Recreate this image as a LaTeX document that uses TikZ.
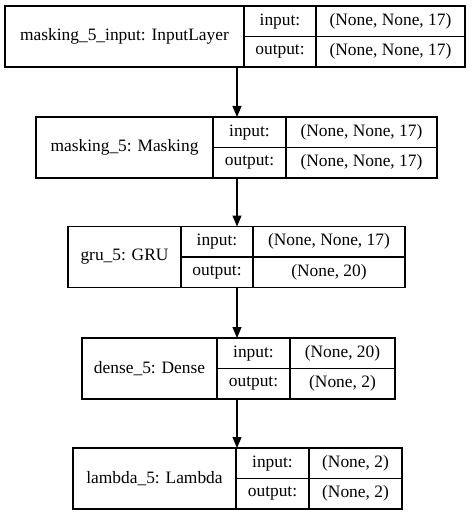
\documentclass[tikz,border=0pt]{standalone}
\usepackage{fontspec}
\setmainfont{Liberation Serif}
\usetikzlibrary{arrows.meta}
\tikzset{
  cell/.style={draw=black, line width=1.2pt, rectangle, inner sep=0pt, outer sep=0pt, font=\fontsize{17.4}{20}\selectfont, anchor=center},
  ghost/.style={rectangle, inner sep=0pt, outer sep=0pt, anchor=center},
  arr/.style={line width=1.2pt, -{Triangle[length=11pt,width=9pt]}}
}
% #1 name, #2..#5 x positions, #6 y centre, #7 label, #8 input value, #9 output value
\newcommand\kerasbox[9]{%
  \pgfmathsetmacro\kwa{#3-#2}\pgfmathsetmacro\kwb{#4-#3}\pgfmathsetmacro\kwc{#5-#4}\pgfmathsetmacro\kwt{#5-#2}%
  \pgfmathsetmacro\kca{(#2+#3)/2}\pgfmathsetmacro\kcb{(#3+#4)/2}\pgfmathsetmacro\kcc{(#4+#5)/2}\pgfmathsetmacro\kct{(#2+#5)/2}%
  \node[ghost, minimum width=\kwt pt, minimum height=61pt] (#1) at (\kct,#6) {};
  \node[cell, minimum width=\kwa pt, minimum height=61pt] (#1-l) at (\kca,#6) {#7};
  \node[cell, minimum width=\kwb pt, minimum height=30.5pt] (#1-il) at (\kcb,#6-15.25) {input:};
  \node[cell, minimum width=\kwb pt, minimum height=30.5pt] (#1-ol) at (\kcb,#6+15.25) {output:};
  \node[cell, minimum width=\kwc pt, minimum height=30.5pt] (#1-iv) at (\kcc,#6-15.25) {#8};
  \node[cell, minimum width=\kwc pt, minimum height=30.5pt] (#1-ov) at (\kcc,#6+15.25) {#9};
}
\begin{document}
\begin{tikzpicture}[x=1pt,y=-1pt]
\useasboundingbox (0,0) rectangle (473,516);
\fill[white] (0,0) rectangle (473,516);
\kerasbox{b1}{5}{244}{316}{465}{36.5}{masking\_5\_input: InputLayer}{(None, None, 17)}{(None, None, 17)}
\kerasbox{b2}{36}{213}{286}{437}{147.5}{masking\_5: Masking}{(None, None, 17)}{(None, None, 17)}
\kerasbox{b3}{68}{181}{253}{405}{257}{gru\_5: GRU}{(None, None, 17)}{(None, 20)}
\kerasbox{b4}{82}{217}{290}{395}{368.5}{dense\_5: Dense}{(None, 20)}{(None, 2)}
\kerasbox{b5}{73}{236}{309}{402}{478.5}{lambda\_5: Lambda}{(None, 2)}{(None, 2)}
\coordinate (ax) at (237,0);
\draw[arr] (b1.south -| ax) -- (b2.north -| ax);
\draw[arr] (b2.south -| ax) -- (b3.north -| ax);
\draw[arr] (b3.south -| ax) -- (b4.north -| ax);
\draw[arr] (b4.south -| ax) -- (b5.north -| ax);
\end{tikzpicture}
\end{document}
